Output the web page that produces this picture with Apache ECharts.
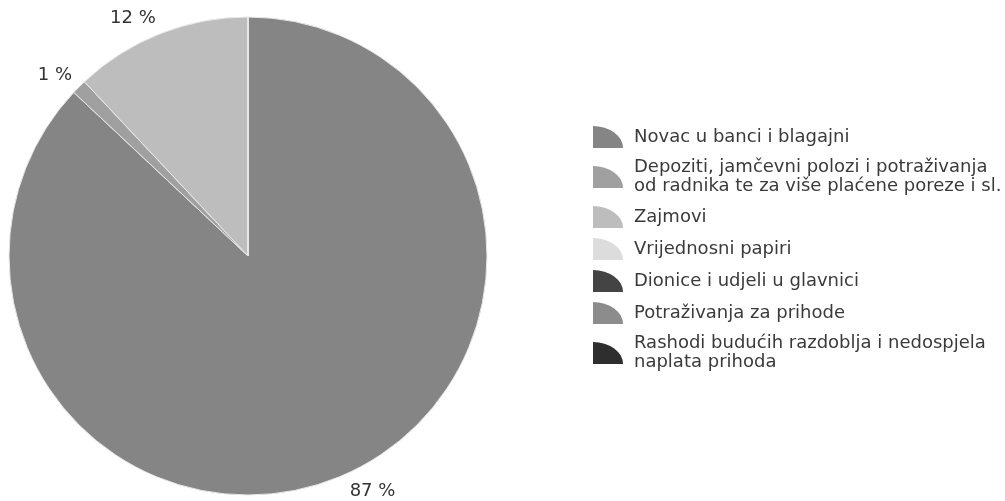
<!DOCTYPE html>
<html lang="hr">
<head>
  <meta charset="UTF-8">
  <title>Struktura financijske imovine</title>
  <style>
    html, body { margin: 0; padding: 0; background: #fff; }
  </style>
</head>
<body>
  <div id="pie" style="width: 1005px;height: 501px;"></div>
  <script src="https://cdn.jsdelivr.net/npm/echarts@6/dist/echarts.min.js"></script>
  <script>
    var names = [
      'Novac u banci i blagajni',
      'Depoziti, jamčevni polozi i potraživanja\nod radnika te za više plaćene poreze i sl.',
      'Zajmovi',
      'Vrijednosni papiri',
      'Dionice i udjeli u glavnici',
      'Potraživanja za prihode',
      'Rashodi budućih razdoblja i nedospjela\nnaplata prihoda'
    ];
    var values = [87, 1, 12, 0, 0, 0, 0];
    var colors = ['#858585', '#a0a0a0', '#bdbdbd', '#dcdcdc', '#444444', '#8c8c8c', '#2e2e2e'];
    // horizontal pull of the outside labels (second label-line segment, hidden)
    var labelShift = [-5, -10, -7, 0, 0, 0, 0];

    var quarter = 'path://M0,22 L0,0 A30,22 0 0 1 30,22 Z';

    var pieData = names.map(function (n, i) {
      return {
        name: n,
        value: values[i],
        itemStyle: { color: colors[i] },
        label: { show: values[i] > 0 },
        labelLine: { show: false, length: 17, length2: labelShift[i] }
      };
    });

    var chart = echarts.init(document.getElementById('pie'));
    chart.setOption({
      animation: false,
      legend: {
        orient: 'vertical',
        left: 588,
        top: 121,
        itemWidth: 30,
        itemHeight: 22,
        itemGap: 10,
        icon: quarter,
        selectedMode: false,
        itemStyle: { borderWidth: 0 },
        textStyle: {
          fontFamily: 'DejaVu Sans',
          fontSize: 18,
          color: '#3a3a3a',
          lineHeight: 19,
          padding: [0, 0, 0, 6]
        },
        data: names
      },
      series: [{
        type: 'pie',
        center: [248, 256],
        radius: 239,
        startAngle: 90,
        clockwise: true,
        percentPrecision: 0,
        itemStyle: { borderColor: '#e8e8e8', borderWidth: 1 },
        label: {
          position: 'outside',
          formatter: '{d} %',
          fontFamily: 'DejaVu Sans',
          fontSize: 18,
          color: '#333'
        },
        data: pieData
      }]
    });
  </script>
</body>
</html>
